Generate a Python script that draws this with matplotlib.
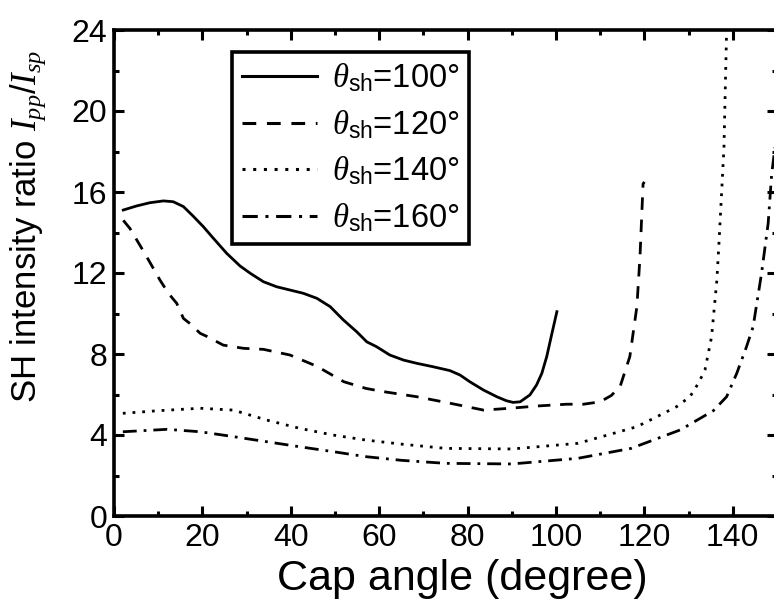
import matplotlib
matplotlib.use("Agg")
import matplotlib.pyplot as plt
from matplotlib.ticker import MultipleLocator

plt.rcParams['font.family'] = ['Liberation Sans', 'DejaVu Sans']
plt.rcParams['mathtext.fontset'] = 'custom'
plt.rcParams['mathtext.rm'] = 'Liberation Sans'
plt.rcParams['mathtext.it'] = 'Liberation Serif:italic'
plt.rcParams['mathtext.bf'] = 'Liberation Sans:bold'

# dati
x100 = [2.1, 5.1, 8.1, 11.2, 13.4, 15.7, 17.9, 20.2, 22.5, 25.5, 28.5, 30.8, 33.8, 36.8, 39.8, 42.8,
        45.9, 48.9, 51.9, 54.9, 57.2, 59.4, 62.4, 65.5, 68.5, 72.2, 76.0, 78.3, 80.5, 83.6, 86.6,
        88.8, 90.3, 91.9, 94.1, 95.6, 96.8, 97.9, 99.0, 100.2]
y100 = [15.11, 15.31, 15.47, 15.56, 15.52, 15.28, 14.81, 14.29, 13.71, 12.97, 12.35, 11.99, 11.57,
        11.32, 11.16, 11.0, 10.75, 10.34, 9.68, 9.1, 8.6, 8.36, 7.95, 7.7, 7.54, 7.37, 7.18, 6.96,
        6.63, 6.22, 5.89, 5.69, 5.61, 5.64, 5.98, 6.47, 7.05, 7.87, 8.94, 10.09]

x120 = [2.1, 3.6, 6.6, 8.9, 10.4, 12.3, 14.2, 15.7, 17.2, 19.5, 21, 24.7, 29.3, 33.8, 39.8, 44.3,
        46, 52, 57, 61, 68.5, 76, 83.6, 89.6, 95.6, 102.4, 106.2, 110, 112.5, 114.5, 116.7, 118.3,
        119, 119.7, 120]
y120 = [14.6, 14.2, 13.1, 12.23, 11.65, 11.0, 10.5, 9.76, 9.5, 9.02, 8.87, 8.44, 8.28, 8.23, 7.95,
        7.54, 7.38, 6.63, 6.3, 6.14, 5.89, 5.57, 5.23, 5.32, 5.43, 5.52, 5.52, 5.64, 5.95, 6.39,
        7.87, 10.34, 12.8, 16.4, 16.5]

x140 = [2, 10, 19.5, 27, 34.5, 42, 49.5, 57, 65, 75, 90, 105, 113, 118.3, 122.8, 127.3, 130.3,
        132.2, 133.7, 135.2, 136.4, 136.9, 137.5, 138, 138.6]
y140 = [5.07, 5.2, 5.32, 5.23, 4.74, 4.33, 4.0, 3.75, 3.55, 3.34, 3.31, 3.59, 4.08, 4.41, 4.9, 5.4,
        5.89, 6.55, 7.21, 8.85, 11.65, 13.6, 16.1, 18.2, 24]

x160 = [2, 12, 19.5, 27, 34.5, 42, 49.5, 57, 65, 75, 90, 105, 117, 128.1, 135.6, 138.6, 140.9,
        143.1, 144.6, 146.5, 148, 148.8, 150]
y160 = [4.16, 4.28, 4.16, 3.92, 3.67, 3.42, 3.18, 2.93, 2.75, 2.6, 2.57, 2.85, 3.34, 4.25, 5.2,
        5.89, 7.05, 8.36, 9.35, 11.98, 14.45, 16.9, 19.0]

etichette = [r'$\theta_{\mathrm{sh}}$=100°', r'$\theta_{\mathrm{sh}}$=120°',
             r'$\theta_{\mathrm{sh}}$=140°', r'$\theta_{\mathrm{sh}}$=160°']

fig = plt.figure(figsize=(7.74, 6.04), dpi=100)
ax = fig.add_axes([114/774, 88/604, 663/774, 486/604])

lw = 2.0
ax.plot(x100, y100, color='k', lw=lw, ls='-', label=etichette[0])
ax.plot(x120, y120, color='k', lw=lw, ls=(0, (4.5, 3.5)), label=etichette[1])
ax.plot(x140, y140, color='k', lw=lw, ls=(0, (1, 2.5)), label=etichette[2])
ax.plot(x160, y160, color='k', lw=lw, ls=(0, (5, 2.5, 1, 2.5)), label=etichette[3])

ax.set_xlim(0, 150)
ax.set_ylim(0, 24)
ax.xaxis.set_major_locator(MultipleLocator(20))
ax.xaxis.set_minor_locator(MultipleLocator(10))
ax.yaxis.set_major_locator(MultipleLocator(4))
ax.yaxis.set_minor_locator(MultipleLocator(2))

for s in ax.spines.values():
    s.set_linewidth(2.6)
ax.tick_params(which='both', direction='in', top=True, right=True, width=2.2, labelsize=23)
ax.tick_params(which='major', length=7.5, pad=5)
ax.tick_params(which='minor', length=3.5)

ax.set_xlabel('Cap angle (degree)', fontsize=31)
ax.xaxis.set_label_coords(0.526, -0.088)
ax.set_ylabel(r'SH intensity ratio $I_{pp}/I_{sp}$', fontsize=25)
ax.yaxis.set_label_coords(-0.1, 0.595)

leg = ax.legend(loc='upper left', bbox_to_anchor=(0.178, 0.955), borderaxespad=0,
                fontsize=23.5, frameon=True, fancybox=False, edgecolor='k',
                framealpha=1, handlelength=2.3, labelspacing=0.42,
                borderpad=0.3, handletextpad=0.45)
leg.get_frame().set_linewidth(2.6)
for l in leg.get_lines():
    l.set_linewidth(2.2)

fig.savefig('out.png', dpi=100)
